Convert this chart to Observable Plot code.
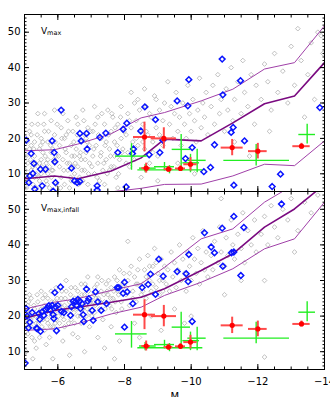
<!DOCTYPE html>
<html><head><meta charset="utf-8">
<script src="https://cdn.jsdelivr.net/npm/d3@7"></script>
<script src="https://cdn.jsdelivr.net/npm/@observablehq/plot@0.6"></script>
<style>
html,body{margin:0;padding:0;background:#fff;}
#chart{position:relative;width:330px;height:397px;overflow:hidden;font-family:"DejaVu Sans",sans-serif;}
#chart > *{position:absolute;left:0;display:block;margin:0;}
</style></head><body><div id="chart"></div>
<script>
// ---------- tick values ----------
const xMajor = [-6, -8, -10, -12, -14];
const xMinor = d3.range(-5, -14.01, -0.5);
const yMajor = [10, 20, 30, 40, 50];
const yMinor = d3.range(5, 55.01, 1);

// ---------- simulation subhalos (gray), panel 1: Vmax ----------
const grayVmax = [
[-5.05,6],[-5.1,9],[-5.1,13],[-5.15,17],[-5.2,11],[-5.2,21],[-5.25,7],[-5.3,15],[-5.3,19],[-5.35,10],[-5.4,24],[-5.4,12],[-5.45,8],[-5.45,17],[-5.5,14],[-5.5,20],[-5.05,15],[-5.15,22],[-5.25,12],[-5.35,6],[-5.5,10],[-5.4,27],[-5.2,18],[-5.3,9],[-5.45,13],
[-5.55,16],[-5.6,11],[-5.6,22],[-5.65,8],[-5.7,14],[-5.7,19],[-5.75,12],[-5.8,25],[-5.8,9],[-5.85,17],[-5.9,13],[-5.9,21],[-5.95,7],[-5.95,15],[-5.6,27],[-5.75,6],[-5.85,11],[-5.55,19],[-5.65,13],[-5.9,28],[-5.7,10],[-5.8,16],
[-6.05,12],[-6.05,18],[-6.1,9],[-6.1,23],[-6.15,14],[-6.2,7],[-6.2,20],[-6.25,16],[-6.3,11],[-6.3,25],[-6.35,13],[-6.4,18],[-6.4,8],[-6.45,22],[-6.5,15],[-6.5,10],[-6.15,27],[-6.35,6],[-6.25,21],[-6.45,12],
[-6.55,17],[-6.6,12],[-6.6,24],[-6.65,9],[-6.7,19],[-6.7,14],[-6.75,28],[-6.8,11],[-6.8,21],[-6.85,16],[-6.9,7],[-6.9,23],[-6.95,13],[-6.95,18],[-6.55,26],[-6.65,15],[-6.75,8],[-6.85,20],
[-7.05,15],[-7.05,22],[-7.1,10],[-7.15,18],[-7.2,26],[-7.2,13],[-7.25,8],[-7.3,20],[-7.3,16],[-7.35,11],[-7.4,24],[-7.45,19],[-7.45,14],[-7.5,28],[-7.1,29],[-7.4,7],
[-7.55,17],[-7.6,22],[-7.6,12],[-7.65,26],[-7.7,15],[-7.7,19],[-7.75,9],[-7.8,24],[-7.85,14],[-7.9,20],[-7.9,29],[-7.95,17],[-7.55,11],[-7.8,6],
[-8.05,21],[-8.1,16],[-8.1,27],[-8.15,12],[-8.2,23],[-8.25,19],[-8.3,30],[-8.3,14],[-8.35,25],[-8.4,18],[-8.45,22],[-8.5,9],[-8.2,33],[-8.45,28],
[-8.55,24],[-8.6,17],[-8.65,29],[-8.7,21],[-8.75,13],[-8.8,26],[-8.85,19],[-8.9,32],[-8.95,23],[-9.0,15],[-9.05,28],[-9.1,20],[-9.15,25],[-9.2,30],[-8.6,34],[-9.0,8],
[-9.3,36],[-9.35,24],[-9.4,29],[-9.45,20],[-9.5,27],[-9.55,33],[-9.6,22],[-9.65,26],[-9.7,18],[-9.75,30],[-9.8,24],[-9.85,20],[-9.9,35],[-9.95,27],[-10.0,22],[-10.05,31],[-10.1,25],[-10.15,19],[-10.2,28],[-10.25,37],[-10.3,23],[-10.35,30],[-10.4,26],[-10.45,33],[-10.5,21],[-9.6,13],[-10.1,10],
[-10.6,29],[-10.65,35],[-10.7,24],[-10.8,38],[-10.85,27],[-10.9,31],[-11.0,22],[-11.05,34],[-11.1,28],[-11.2,40],[-11.25,25],[-11.3,31],[-11.4,36],[-11.5,27],[-11.55,42],[-11.6,33],[-11.7,29],[-11.8,38],[-11.9,24],[-11.95,35],[-11.3,19],[-11.75,15],
[-12.1,31],[-12.2,41],[-12.3,36],[-12.4,28],[-12.5,44],[-12.6,33],[-12.75,39],[-12.9,30],[-13.0,46],[-13.1,35],[-13.3,42],[-13.4,26],[-13.5,38],[-13.6,47],[-13.7,31],[-13.8,50],[-13.9,49],[-13.95,44],[-12.35,22],[-13.2,51],
[-5.02,11],[-5.08,19],[-5.12,8],[-5.18,14],[-5.22,24],[-5.28,17],[-5.33,13],[-5.38,21],[-5.42,9],[-5.48,18],[-5.52,12],[-5.58,24],[-5.62,15],[-5.68,7],[-5.72,22],[-5.78,18],[-5.82,11],[-5.88,14],[-5.92,19],[-5.98,24],[-6.02,15],[-6.08,6],[-6.12,20],[-6.18,11],[-6.22,17],[-6.28,13],[-6.32,22],[-6.38,9],[-6.42,15],[-6.48,19],[-6.52,13],[-6.58,21],[-6.62,7],[-6.68,16],[-6.72,11],[-6.78,25],[-6.82,14],[-6.88,19],[-6.92,10],[-6.98,22],[-7.02,12],[-7.08,17],[-7.12,24],[-7.18,9],[-7.22,21],[-7.28,15],[-7.32,27],[-7.38,13],[-7.42,18],[-7.48,10],[-7.52,21],[-7.58,15],[-7.62,27],[-7.68,12],[-7.72,23],[-7.78,18],[-7.82,10],[-7.88,26],[-7.92,16],[-7.98,22],[-8.05,13],[-8.15,25],[-8.25,17],[-8.35,20],[-8.4,31],[-8.55,19],[-8.65,22],[-8.75,27],[-8.85,16],[-8.95,31],[-9.05,21],[-9.15,18]
];

// ---------- gray, panel 2: Vmax at infall ----------
const grayVinfall = [
[-5.05,19],[-5.1,23],[-5.1,15],[-5.15,21],[-5.2,17],[-5.2,25],[-5.25,20],[-5.3,13],[-5.3,22],[-5.35,18],[-5.4,24],[-5.4,16],[-5.45,20],[-5.5,22],[-5.5,27],[-5.05,10],[-5.25,8],[-5.35,11],[-5.15,26],[-5.45,14],
[-5.55,19],[-5.6,23],[-5.6,16],[-5.65,21],[-5.7,25],[-5.7,18],[-5.75,22],[-5.8,20],[-5.8,27],[-5.85,17],[-5.9,24],[-5.9,21],[-5.95,19],[-5.65,12],[-5.85,8],[-5.75,14],[-5.95,28],[-5.55,25],
[-6.05,22],[-6.05,18],[-6.1,25],[-6.15,20],[-6.2,23],[-6.2,17],[-6.25,27],[-6.3,21],[-6.35,24],[-6.4,19],[-6.4,28],[-6.45,22],[-6.5,25],[-6.5,18],[-6.15,13],[-6.35,9],[-6.25,30],[-6.45,15],
[-6.55,23],[-6.6,20],[-6.6,27],[-6.65,24],[-6.7,18],[-6.7,29],[-6.75,22],[-6.8,26],[-6.85,20],[-6.9,24],[-6.9,31],[-6.95,21],[-6.6,14],[-6.8,10],[-6.95,17],
[-7.05,24],[-7.1,21],[-7.1,28],[-7.15,25],[-7.2,31],[-7.25,22],[-7.3,27],[-7.35,19],[-7.4,24],[-7.45,29],[-7.5,26],[-7.2,14],[-7.4,11],
[-7.55,23],[-7.6,28],[-7.65,25],[-7.7,31],[-7.75,21],[-7.8,27],[-7.85,33],[-7.9,24],[-7.95,29],[-7.6,17],[-7.85,13],[-7.7,8],
[-8.05,26],[-8.1,30],[-8.15,23],[-8.2,34],[-8.25,27],[-8.3,31],[-8.35,24],[-8.4,29],[-8.45,36],[-8.5,26],[-8.1,41],[-8.3,18],[-8.45,14],
[-8.55,29],[-8.6,33],[-8.65,25],[-8.7,37],[-8.75,30],[-8.8,27],[-8.85,34],[-8.9,39],[-8.95,28],[-9.0,32],[-9.05,26],[-9.1,36],[-9.15,30],[-9.2,34],[-8.8,20],[-9.1,16],
[-9.25,29],[-9.3,33],[-9.35,27],[-9.4,38],[-9.45,31],[-9.5,35],[-9.55,28],[-9.6,33],[-9.65,40],[-9.7,30],[-9.75,36],[-9.8,32],[-9.85,27],[-9.9,38],[-9.95,34],[-10.0,30],[-10.05,42],[-10.1,36],[-10.15,32],[-10.2,39],[-10.25,29],[-10.3,35],[-10.35,44],[-10.4,33],[-10.45,38],[-10.5,31],[-9.5,22],[-9.8,18],[-10.0,20],
[-10.6,37],[-10.65,33],[-10.7,41],[-10.8,35],[-10.85,45],[-10.9,38],[-11.0,34],[-11.05,42],[-11.1,37],[-11.2,47],[-11.25,40],[-11.3,36],[-11.4,43],[-11.5,39],[-11.55,49],[-11.6,35],[-11.7,44],[-11.8,40],[-11.9,47],[-11.95,38],[-11.0,26],[-11.5,30],[-10.9,53],
[-12.1,43],[-12.2,48],[-12.3,40],[-12.4,51],[-12.5,45],[-12.6,42],[-12.75,50],[-12.9,47],[-13.0,53],[-13.2,44],[-13.4,52],[-13.6,49],[-13.8,54],[-12.2,30],[-12.2,8.5],[-13.1,38],
[-5.02,21],[-5.08,17],[-5.12,24],[-5.18,19],[-5.22,14],[-5.28,23],[-5.33,20],[-5.38,26],[-5.42,18],[-5.48,21],[-5.52,17],[-5.58,22],[-5.62,26],[-5.68,19],[-5.72,23],[-5.78,17],[-5.82,24],[-5.88,22],[-5.92,18],[-5.98,25],[-6.02,20],[-6.08,23],[-6.12,27],[-6.18,19],[-6.22,25],[-6.28,22],[-6.32,18],[-6.38,26],[-6.42,23],[-6.48,21],[-6.52,28],[-6.58,22],[-6.62,25],[-6.68,20],[-6.72,26],[-6.78,23],[-6.82,29],[-6.88,22],[-6.92,27],[-6.98,24],[-7.02,20],[-7.08,26],[-7.12,23],[-7.18,29],[-7.22,25],[-7.28,24],[-7.32,30],[-7.38,26],[-7.42,22],[-7.48,27],[-7.52,30],[-7.58,25],[-7.62,22],[-7.68,27],[-7.72,24],[-7.78,30],[-7.82,26],[-7.88,28],[-7.92,22],[-7.98,32],[-8.05,28],[-8.15,32],[-8.25,25],[-8.35,29],[-8.4,33],[-8.55,27],[-8.65,31],[-8.75,34],[-8.85,29],[-8.95,35],[-9.05,30],[-9.15,27]
];

// ---------- selected subhalos (blue) ----------
const blueVmax = [
[-5.05,19.5],[-5.2,15.7],[-5.28,12.9],[-5.16,9.4],[-5.25,10.1],[-5.13,7.5],[-5.48,11.3],[-5.63,11.3],[-5.83,19.3],[-5.89,16.0],[-5.91,13.4],[-6.1,28.0],[-6.41,11.6],[-6.66,21.4],[-6.7,19.3],[-6.86,21.4],[-6.88,17.0],[-6.5,8.0],[-6.58,7.5],[-6.66,7.8],[-5.93,7.5],[-5.86,5.1],[-5.31,5.7],[-5.53,6.6],[-7.18,6.6],[-7.18,5.4],[-7.26,20.3],[-7.44,21.5],[-7.8,16.0],[-7.96,22.6],[-8.07,24.3],[-8.05,6.3],[-8.24,15.7],[-8.27,17.0],[-8.49,22.1],[-8.61,28.9],[-8.74,15.4],[-8.93,25.3],[-9.06,16.0],[-9.15,19.5],
[-9.93,36.6],[-9.58,30.6],[-9.9,29.2],[-10.93,42.4],[-11.48,36.3],[-10.95,32.3],[-11.26,23.1],[-11.2,21.7],[-10.03,17.4],[-9.83,14.3],[-10.7,18.2],[-11.6,19.3],[-10.58,11.8],[-10.38,10.6],[-11.28,6.8],[-12.43,6.4],[-12.68,9.9],[-13.86,28.7]
];
const blueVinfall = [
[-5.08,20.0],[-5.23,21.0],[-5.16,18.3],[-5.36,16.6],[-5.46,19.1],[-5.43,20.7],[-5.53,21.2],[-5.58,20.2],[-5.63,21.8],[-5.68,22.3],[-5.73,22.9],[-5.78,21.6],[-5.83,23.0],[-5.86,20.4],[-5.88,19.3],[-5.91,26.6],[-5.93,22.6],[-6.0,23.0],[-6.08,28.2],[-6.11,21.3],[-6.18,21.0],[-5.96,15.9],[-5.48,15.7],[-5.38,16.5],[-6.38,20.2],[-6.41,22.6],[-6.46,24.2],[-6.53,24.0],[-6.56,23.0],[-6.6,24.7],[-6.66,24.2],[-6.68,22.1],[-6.73,23.5],[-6.76,20.4],[-6.78,18.5],[-6.86,27.6],[-6.9,24.2],[-6.93,24.9],[-7.03,21.6],[-7.06,18.8],[-7.13,26.8],[-7.2,24.0],[-7.3,21.6],[-7.46,23.5],[-7.78,28.0],[-7.83,28.0],[-8.0,29.5],[-8.08,26.8],[-7.96,26.4],[-8.0,16.9],[-8.25,23.5],[-8.53,28.0],[-8.71,28.9],[-8.78,31.8],[-8.93,26.1],[-9.03,36.0],[-9.16,31.2],[-5.02,6.8],[-5.12,16.7],[-5.05,22.1],
[-12.71,51.5],[-11.28,48.0],[-10.4,43.4],[-10.93,44.7],[-11.58,44.9],[-10.6,39.4],[-10.7,37.8],[-9.93,37.3],[-11.21,37.8],[-11.28,38.0],[-10.95,34.0],[-9.58,32.5],[-9.85,31.9],[-9.91,29.7],[-11.49,31.4],[-10.03,18.5]
];

// ---------- percentile curves (purple) ----------
const curveM        = [-5.0, -5.9, -6.6, -7.6, -8.5, -9.2, -10.3, -11.25, -12.2, -13.1, -14.0];
const vmaxHigh      = [16.5, 16.8, 18.4, 21.3, 25.8, 27.3, 30.6, 33.9, 39.6, 41.4, 51.8];
const vmaxMid       = [8.6, 9.4, 8.6, 10.8, 14.5, 19.8, 19.3, 24.4, 29.8, 32.0, 41.4];
const vmaxLow       = [3.5, 3.5, 3.8, 4.9, 5.9, 7.0, 7.1, 9.4, 12.7, 12.3, 19.3];
const infallHigh    = [22.0, 23.9, 24.9, 27.2, 29.1, 33.7, 41.7, 44.5, 52.0, 57.0, 62.0];
const infallMid     = [19.4, 21.6, 22.5, 23.9, 25.3, 27.7, 32.8, 37.5, 45.0, 50.1, 57.0];
const infallLow     = [16.0, 16.4, 17.9, 20.6, 22.5, 25.8, 29.5, 33.3, 38.9, 41.7, 52.0];

// ---------- observed dwarfs (red) ----------
const redM  = [-8.6, -8.65, -9.18, -9.32, -9.68, -9.98, -11.23, -12.0, -13.31];
const redV  = [20.4, 11.6, 20.0, 11.3, 11.5, 12.7, 17.4, 16.4, 17.8];
const redDM = [0.33, 0.13, 0.38, 0.13, 0.15, 0.2, 0.33, 0.28, 0.26];
const redDV = [4.2, 1.4, 3.0, 0.8, 0.8, 1.9, 2.3, 2.2, 0.8];

// ---------- observed dwarfs (green) ----------
const greenM   = [-8.21, -9.35, -8.62, -9.7, -9.98, -10.18, -11.95, -13.48, -9.2];
const greenV   = [15.0, 11.1, 11.6, 16.9, 13.1, 13.8, 13.8, 21.1, 12.0];
const greenMlo = [-7.73, -8.4, -8.45, -9.43, -9.75, -9.9, -10.98, -13.23, -8.9];
const greenMhi = [-8.68, -10.35, -8.95, -9.98, -10.25, -10.45, -12.95, -13.73, -9.5];
const greenVlo = [11.0, 10.0, 10.3, 10.8, 10.3, 10.3, 12.2, 18.4, 10.8];
const greenVhi = [18.5, 12.3, 12.6, 21.1, 15.5, 16.9, 18.3, 24.0, 13.2];

// ---------- texts ----------
const panelMain = ["V", "V"];
const panelSub = ["max", "max,infall"];
const xTitleMain = "M";
const xTitleSub = "V";

const red = redM.map((m, i) => ({M: m, V: redV[i], dM: redDM[i], dV: redDV[i]}));
const green = greenM.map((m, i) => ({M: m, V: greenV[i], M1: greenMlo[i], M2: greenMhi[i], V1: greenVlo[i], V2: greenVhi[i]}));
const curve = (vals) => curveM.map((m, i) => ({M: m, V: vals[i]}));

function panel({gray, blue, lo, mid, hi, height, mt, mb, idx, bottomLabels}) {
  const ax = {label: null};
  const marks = [
    Plot.dot(gray, {x: d => d[0], y: d => d[1], symbol: "diamond2", r: 2.1, stroke: "#b0b0b0", strokeWidth: 0.8, fill: "none", clip: true}),
    Plot.line(curve(lo), {x: "M", y: "V", stroke: "#a040a8", strokeWidth: 1, clip: true}),
    Plot.line(curve(hi), {x: "M", y: "V", stroke: "#a040a8", strokeWidth: 1, clip: true}),
    Plot.line(curve(mid), {x: "M", y: "V", stroke: "#7a0a80", strokeWidth: 1.6, clip: true}),
    Plot.dot(blue, {x: d => d[0], y: d => d[1], symbol: "diamond2", r: 2.6, stroke: "#0a14ff", strokeWidth: 1.5, fill: "none", clip: true}),
    Plot.ruleY(green, {y: "V", x1: "M1", x2: "M2", stroke: "#22ee22", strokeWidth: 1.4}),
    Plot.ruleX(green, {x: "M", y1: "V1", y2: "V2", stroke: "#22ee22", strokeWidth: 1.4}),
    Plot.ruleY(red, {y: "V", x1: d => d.M + d.dM, x2: d => d.M - d.dM, stroke: "#ff4a4a", strokeWidth: 2}),
    Plot.ruleX(red, {x: "M", y1: d => d.V - d.dV, y2: d => d.V + d.dV, stroke: "#ff4a4a", strokeWidth: 2}),
    Plot.dot(red, {x: "M", y: "V", r: 2.6, fill: "#ff0000"}),
    Plot.frame({stroke: "black", strokeWidth: 1}),
    // inward ticks on all four sides
    Plot.axisY(yMinor, {anchor: "left", tickSize: -2.5, fill: "none", ...ax}),
    Plot.axisY(yMajor, {anchor: "left", tickSize: -5, fill: "none", ...ax}),
    Plot.axisY(yMinor, {anchor: "right", tickSize: -2.5, fill: "none", ...ax}),
    Plot.axisY(yMajor, {anchor: "right", tickSize: -5, fill: "none", ...ax}),
    Plot.axisX(xMinor, {anchor: "bottom", tickSize: -2.5, fill: "none", ...ax}),
    Plot.axisX(xMajor, {anchor: "bottom", tickSize: -5, fill: "none", ...ax}),
    Plot.axisX(xMinor, {anchor: "top", tickSize: -2.5, fill: "none", ...ax}),
    Plot.axisX(xMajor, {anchor: "top", tickSize: -5, fill: "none", ...ax}),
    // tick labels
    Plot.axisY(yMajor, {anchor: "left", tickSize: 0, tickPadding: 4, fill: "black", fontSize: 10, ...ax}),
    // panel label
    Plot.text([panelMain[idx]], {frameAnchor: "top-left", textAnchor: "start", lineAnchor: "middle", dx: 16.5, dy: 16.4, fontSize: 9, fill: "black"}),
    Plot.text([panelSub[idx]], {frameAnchor: "top-left", textAnchor: "start", lineAnchor: "middle", dx: 22.6, dy: 18.9, fontSize: 6.5, fill: "black"})
  ];
  if (bottomLabels) {
    marks.push(Plot.axisX(xMajor, {anchor: "bottom", tickSize: 0, tickPadding: 8, fill: "black", fontSize: 10, ...ax}));
    marks.push(Plot.text([xTitleMain], {frameAnchor: "bottom-left", textAnchor: "start", lineAnchor: "top", dx: 146, dy: 23, fontSize: 10, fill: "black"}));
    marks.push(Plot.text([xTitleSub], {frameAnchor: "bottom-left", textAnchor: "start", lineAnchor: "top", dx: 154.8, dy: 27.5, fontSize: 7, fill: "black"}));
  }
  return Plot.plot({
    width: 330, height,
    marginLeft: 24, marginRight: 6, marginTop: mt, marginBottom: mb,
    style: {fontFamily: "DejaVu Sans", fontSize: "10px", color: "black", background: "transparent", overflow: "visible"},
    x: {domain: [-5, -14]},
    y: {domain: [5, 55]},
    marks
  });
}

const root = document.getElementById("chart");

const p1 = panel({gray: grayVmax, blue: blueVmax, lo: vmaxLow, mid: vmaxMid, hi: vmaxHigh,
  height: 191, mt: 14, mb: 0, idx: 0, bottomLabels: false});
p1.style.top = "0px";
root.appendChild(p1);

const p2 = panel({gray: grayVinfall, blue: blueVinfall, lo: infallLow, mid: infallMid, hi: infallHigh,
  height: 206, mt: 0, mb: 28, idx: 1, bottomLabels: true});
p2.style.top = "191px";
root.appendChild(p2);
</script>
</body></html>
